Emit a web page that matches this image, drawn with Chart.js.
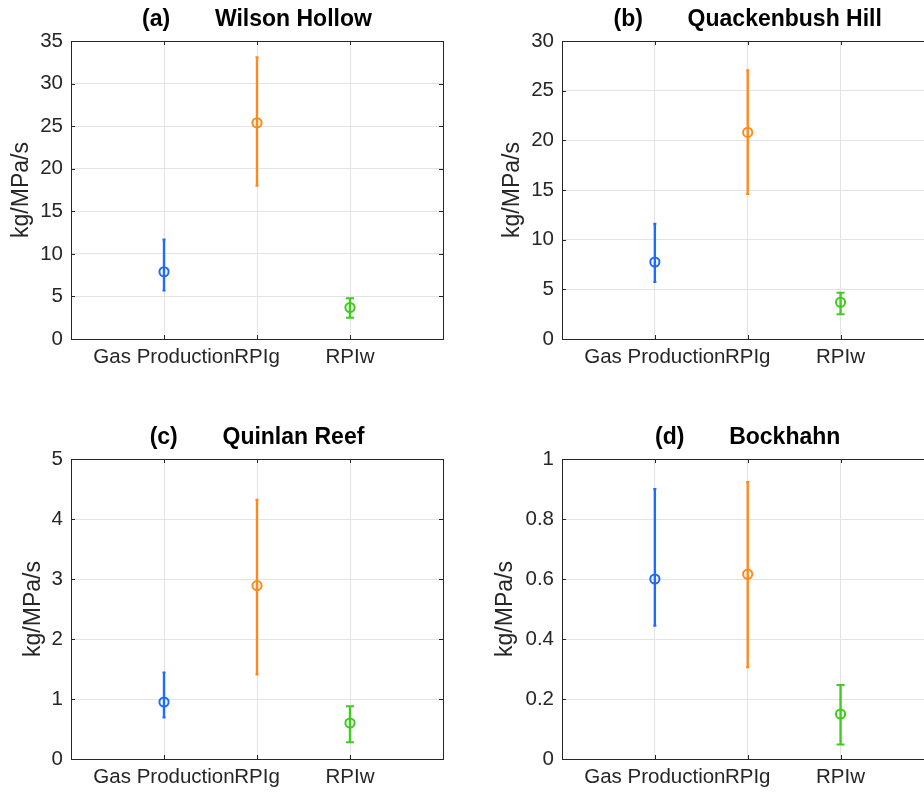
<!DOCTYPE html>
<html>
<head>
<meta charset="utf-8">
<script src="https://cdn.jsdelivr.net/npm/chart.js@4.4.1/dist/chart.umd.min.js"></script>
<style>
  html,body{margin:0;padding:0;background:#fff;overflow:hidden;width:924px;height:792px;}
  .pan{position:absolute;}
</style>
</head>
<body>
<div class="pan" id="pa" style="left:0px;top:0px;"><canvas id="ca" width="460" height="390"></canvas></div>
<div class="pan" id="pb" style="left:460px;top:0px;"><canvas id="cb" width="480" height="390"></canvas></div>
<div class="pan" id="pc" style="left:0px;top:390px;"><canvas id="cc" width="460" height="402"></canvas></div>
<div class="pan" id="pd" style="left:460px;top:390px;"><canvas id="cd" width="480" height="402"></canvas></div>
<script>

var categories = ['Gas Production', 'RPIg', 'RPIw'];
var colors = ['#1d6cff', '#ff8a1c', '#3fcc1e'];

// (a) Wilson Hollow
var wilsonMean = [7.9, 25.4, 3.7];
var wilsonLow = [5.7, 18.0, 2.5];
var wilsonHigh = [11.7, 33.1, 4.8];

// (b) Quackenbush Hill
var quackMean = [7.75, 20.8, 3.7];
var quackLow = [5.75, 14.6, 2.5];
var quackHigh = [11.6, 27.05, 4.65];

// (c) Quinlan Reef
var quinlanMean = [0.95, 2.89, 0.6];
var quinlanLow = [0.69, 1.41, 0.28];
var quinlanHigh = [1.44, 4.32, 0.88];

// (d) Bockhahn
var bockMean = [0.6, 0.616, 0.15];
var bockLow = [0.444, 0.306, 0.048];
var bockHigh = [0.9, 0.923, 0.247];

var yMaxes = [35, 30, 5, 1];
var ySteps = [5, 5, 1, 0.2];

var FONT = "'Liberation Sans', Arial, Helvetica, sans-serif";

// error bars + box with inside ticks (matlab look)
var errorBoxPlugin = {
  id: 'errorBox',
  beforeDatasetsDraw(chart) {
    var ctx = chart.ctx;
    var xs = chart.scales.x, ys = chart.scales.y;
    var eb = chart.options.plugins.errorBox;
    ctx.save();
    for (var i = 0; i < eb.low.length; i++) {
      var px = xs.getPixelForValue(i + 1);
      var pl = ys.getPixelForValue(eb.low[i]);
      var ph = ys.getPixelForValue(eb.high[i]);
      ctx.strokeStyle = colors[i];
      ctx.lineWidth = 2.4;
      ctx.beginPath();
      ctx.moveTo(px, pl);
      ctx.lineTo(px, ph);
      ctx.stroke();
      var cap = i == 2 ? 4 : 1.5;
      ctx.lineWidth = 2;
      ctx.beginPath();
      ctx.moveTo(px - cap, pl); ctx.lineTo(px + cap, pl);
      ctx.moveTo(px - cap, ph); ctx.lineTo(px + cap, ph);
      ctx.stroke();
    }
    ctx.restore();
  },
  afterDraw(chart) {
    var ctx = chart.ctx;
    var a = chart.chartArea;
    var xs = chart.scales.x, ys = chart.scales.y;
    ctx.save();
    ctx.strokeStyle = '#262626';
    ctx.lineWidth = 1;
    ctx.strokeRect(Math.round(a.left) + 0.5, Math.round(a.top) + 0.5, Math.round(a.right - a.left), Math.round(a.bottom - a.top));
    ctx.beginPath();
    xs.ticks.forEach(function(t) {
      var px = Math.round(xs.getPixelForValue(t.value)) + 0.5;
      ctx.moveTo(px, a.bottom); ctx.lineTo(px, a.bottom - 4);
      ctx.moveTo(px, a.top); ctx.lineTo(px, a.top + 4);
    });
    ys.ticks.forEach(function(t) {
      var py = Math.round(ys.getPixelForValue(t.value)) + 0.5;
      ctx.moveTo(a.left, py); ctx.lineTo(a.left + 4, py);
      ctx.moveTo(a.right, py); ctx.lineTo(a.right - 4, py);
    });
    ctx.stroke();
    ctx.restore();
  }
};

function MakePanel({canvasId, title, mean, low, high, yMax, yStep, yAxisWidth, xAxisHeight, padRight, titleTop, labelX}) {

  var pts = mean.map(function(v, i) { return {x: i + 1, y: v}; });

  return new Chart(document.getElementById(canvasId), {
    type: 'scatter',
    data: {
      datasets: [{
        data: pts,
        pointStyle: 'circle',
        pointRadius: 4.6,
        pointHoverRadius: 4.6,
        pointBorderWidth: 2,
        pointBackgroundColor: 'rgba(0,0,0,0)',
        pointBorderColor: colors,
      }]
    },
    options: {
      responsive: false,
      animation: false,
      devicePixelRatio: 1,
      layout: {padding: {left: 0, right: padRight, top: 0, bottom: 0}},
      plugins: {
        legend: {display: false},
        tooltip: {enabled: false},
        title: {
          display: true,
          text: title,
          fullSize: false,
          color: '#000',
          font: {family: FONT, size: 23, weight: 'bold'},
          padding: {top: titleTop, bottom: 7.2},
        },
        errorBox: {low: low, high: high},
      },
      scales: {
        x: {
          type: 'linear',
          min: 0,
          max: 4,
          afterBuildTicks: function(s) { s.ticks = [{value: 1}, {value: 2}, {value: 3}]; },
          afterFit: function(s) { s.height = xAxisHeight; },
          ticks: {
            autoSkip: false,
            maxRotation: 0,
            padding: 6,
            color: '#262626',
            font: {family: FONT, size: 20.5},
            callback: function(v) { return categories[v - 1] || ''; },
          },
          grid: {color: '#e3e3e3', drawTicks: false},
          border: {display: false},
        },
        y: {
          min: 0,
          max: yMax,
          afterFit: function(s) { s.width = yAxisWidth; },
          ticks: {
            stepSize: yStep,
            padding: 8,
            color: '#262626',
            font: {family: FONT, size: 20.5},
            callback: function(v) { return String(Math.round(v * 100) / 100); },
          },
          grid: {color: '#e3e3e3', drawTicks: false},
          border: {display: false},
          title: {
            display: true,
            text: 'kg/MPa/s',
            color: '#262626',
            font: {family: FONT, size: 23},
            padding: {top: labelX - 13.8, bottom: 0},
          },
        },
      },
    },
    plugins: [errorBoxPlugin],
  });
}

MakePanel({canvasId: 'ca', title: '(a)       Wilson Hollow', mean: wilsonMean, low: wilsonLow, high: wilsonHigh,
  yMax: yMaxes[0], yStep: ySteps[0], yAxisWidth: 71, xAxisHeight: 51, padRight: 17, titleTop: 6.2, labelX: 22});

MakePanel({canvasId: 'cb', title: '(b)       Quackenbush Hill', mean: quackMean, low: quackLow, high: quackHigh,
  yMax: yMaxes[1], yStep: ySteps[1], yAxisWidth: 102, xAxisHeight: 51, padRight: 6, titleTop: 6.2, labelX: 53});

MakePanel({canvasId: 'cc', title: '(c)       Quinlan Reef', mean: quinlanMean, low: quinlanLow, high: quinlanHigh,
  yMax: yMaxes[2], yStep: ySteps[2], yAxisWidth: 71, xAxisHeight: 33, padRight: 17, titleTop: 34.2, labelX: 34});

MakePanel({canvasId: 'cd', title: '(d)       Bockhahn', mean: bockMean, low: bockLow, high: bockHigh,
  yMax: yMaxes[3], yStep: ySteps[3], yAxisWidth: 102, xAxisHeight: 33, padRight: 6, titleTop: 34.2, labelX: 46});

</script>
</body>
</html>
